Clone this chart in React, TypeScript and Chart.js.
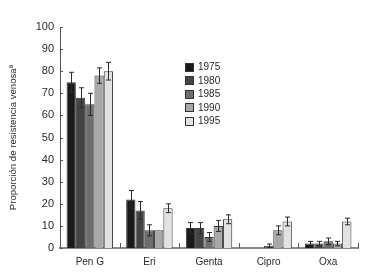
import React, { useEffect, useRef } from "react";
import { Chart, registerables } from "chart.js";

Chart.register(...registerables);

const categories = ["Pen G", "Eri", "Genta", "Cipro", "Oxa"];
const years = ["1975", "1980", "1985", "1990", "1995"];

const v1975 = [75, 22, 9, null, 2];
const v1980 = [68, 17, 9, null, 2];
const v1985 = [65, 8, 5, 1, 3];
const v1990 = [78, 8, 10, 8, 2];
const v1995 = [80, 18, 13, 12, 12];

const e1975 = [4.5, 4, 2.5, 0, 1];
const e1980 = [4.5, 4, 2.5, 0, 1];
const e1985 = [5, 2.5, 2, 0.8, 1.5];
const e1990 = [3.5, 0, 2.5, 2, 1];
const e1995 = [4, 2, 2, 2, 1.5];

const yTicks = [0, 10, 20, 30, 40, 50, 60, 70, 80, 90, 100];
const yTitle = "Proporción de resistencia venosaª";

const colors = ["#1a1a1a", "#444444", "#6e6e6e", "#a8a8a8", "#e2e2e2"];
const FONT = "'Liberation Sans', Arial, sans-serif";

const seriesValues = [v1975, v1980, v1985, v1990, v1995];
const seriesErrors = [e1975, e1980, e1985, e1990, e1995];

const errorBarPlugin = {
  id: "errorBars",
  afterDatasetsDraw(chart: any) {
    const ctx = chart.ctx;
    const y = chart.scales.y;
    ctx.save();
    ctx.strokeStyle = "#2a2a2a";
    ctx.lineWidth = 1;
    chart.data.datasets.forEach((ds: any, i: number) => {
      const meta = chart.getDatasetMeta(i);
      meta.data.forEach((el: any, j: number) => {
        const v = ds.data[j];
        const e = ds.errors[j];
        if (v == null || !e) return;
        const x = Math.round(el.x) + 0.5;
        const yt = y.getPixelForValue(v + e);
        const yb = y.getPixelForValue(Math.max(0, v - e));
        ctx.beginPath();
        ctx.moveTo(x, yt);
        ctx.lineTo(x, yb);
        ctx.moveTo(x - 2.5, yt);
        ctx.lineTo(x + 2.5, yt);
        ctx.moveTo(x - 2.5, yb);
        ctx.lineTo(x + 2.5, yb);
        ctx.stroke();
      });
    });
    ctx.restore();
  },
};

const axisTicksPlugin = {
  id: "axisTicks",
  afterDraw(chart: any) {
    const ctx = chart.ctx;
    const x = chart.scales.x;
    const y = chart.scales.y;
    const area = chart.chartArea;
    ctx.save();
    ctx.strokeStyle = "#555";
    ctx.lineWidth = 1;
    ctx.beginPath();
    yTicks.forEach((t) => {
      const py = Math.round(y.getPixelForValue(t)) + 0.5;
      ctx.moveTo(area.left, py);
      ctx.lineTo(area.left + 3, py);
    });
    for (let i = 0; i < categories.length; i++) {
      const px = Math.round(x.getPixelForValue(i) + (x.getPixelForValue(1) - x.getPixelForValue(0)) / 2) + 0.5;
      ctx.moveTo(px, area.bottom);
      ctx.lineTo(px, area.bottom - 5);
    }
    ctx.stroke();
    ctx.restore();
  },
};

const legendPlugin = {
  id: "customLegend",
  afterDraw(chart: any) {
    const ctx = chart.ctx;
    ctx.save();
    ctx.font = `10px ${FONT}`;
    ctx.textBaseline = "middle";
    chart.data.datasets.forEach((ds: any, i: number) => {
      const cy = 67 + i * 13.5;
      ctx.fillStyle = ds.backgroundColor;
      ctx.fillRect(185.5, Math.round(cy - 4.5) + 0.5, 8, 8);
      ctx.strokeStyle = "#333";
      ctx.lineWidth = 1;
      ctx.strokeRect(185.5, Math.round(cy - 4.5) + 0.5, 8, 8);
      ctx.fillStyle = "#2a2a2a";
      ctx.fillText(ds.label, 198, cy + 0.5);
    });
    ctx.restore();
  },
};

export default function App() {
  const ref = useRef<HTMLCanvasElement | null>(null);
  useEffect(() => {
    document.body.style.margin = "0";
    const canvas = ref.current!;
    const chart = new Chart(canvas, {
      type: "bar",
      data: {
        labels: categories,
        datasets: years.map((yr, i) => ({
          label: yr,
          data: seriesValues[i],
          errors: seriesErrors[i],
          backgroundColor: colors[i],
          borderColor: "#3a3a3a",
          borderWidth: 1,
          categoryPercentage: 0.78,
          barPercentage: 1,
        })) as any,
      },
      options: {
        animation: false,
        responsive: false,
        maintainAspectRatio: false,
        layout: { padding: { top: 27, right: 20, bottom: 0, left: 0 } },
        plugins: { legend: { display: false }, tooltip: { enabled: false } },
        scales: {
          x: {
            grid: { display: false, drawTicks: false },
            border: { display: true, color: "#8a8a8a", width: 2 },
            ticks: { font: { family: FONT, size: 10 }, color: "#2a2a2a", padding: 8 },
            afterFit(scale: any) {
              scale.height = 32;
            },
          },
          y: {
            min: 0,
            max: 100,
            grid: { display: false, drawTicks: false },
            border: { display: true, color: "#555", width: 1 },
            ticks: { stepSize: 10, font: { family: FONT, size: 11 }, color: "#2a2a2a", padding: 6 },
            title: {
              display: true,
              text: yTitle,
              font: { family: FONT, size: 9.6 },
              color: "#2a2a2a",
              padding: { top: 8, bottom: 0 },
            },
            afterFit(scale: any) {
              scale.width = 60;
            },
          },
        },
      },
      plugins: [errorBarPlugin, axisTicksPlugin, legendPlugin],
    });
    return () => chart.destroy();
  }, []);
  return (
    <div style={{ position: "fixed", left: 0, top: 0, width: 378, height: 280, background: "#fff" }}>
      <canvas ref={ref} width={378} height={280} />
    </div>
  );
}
